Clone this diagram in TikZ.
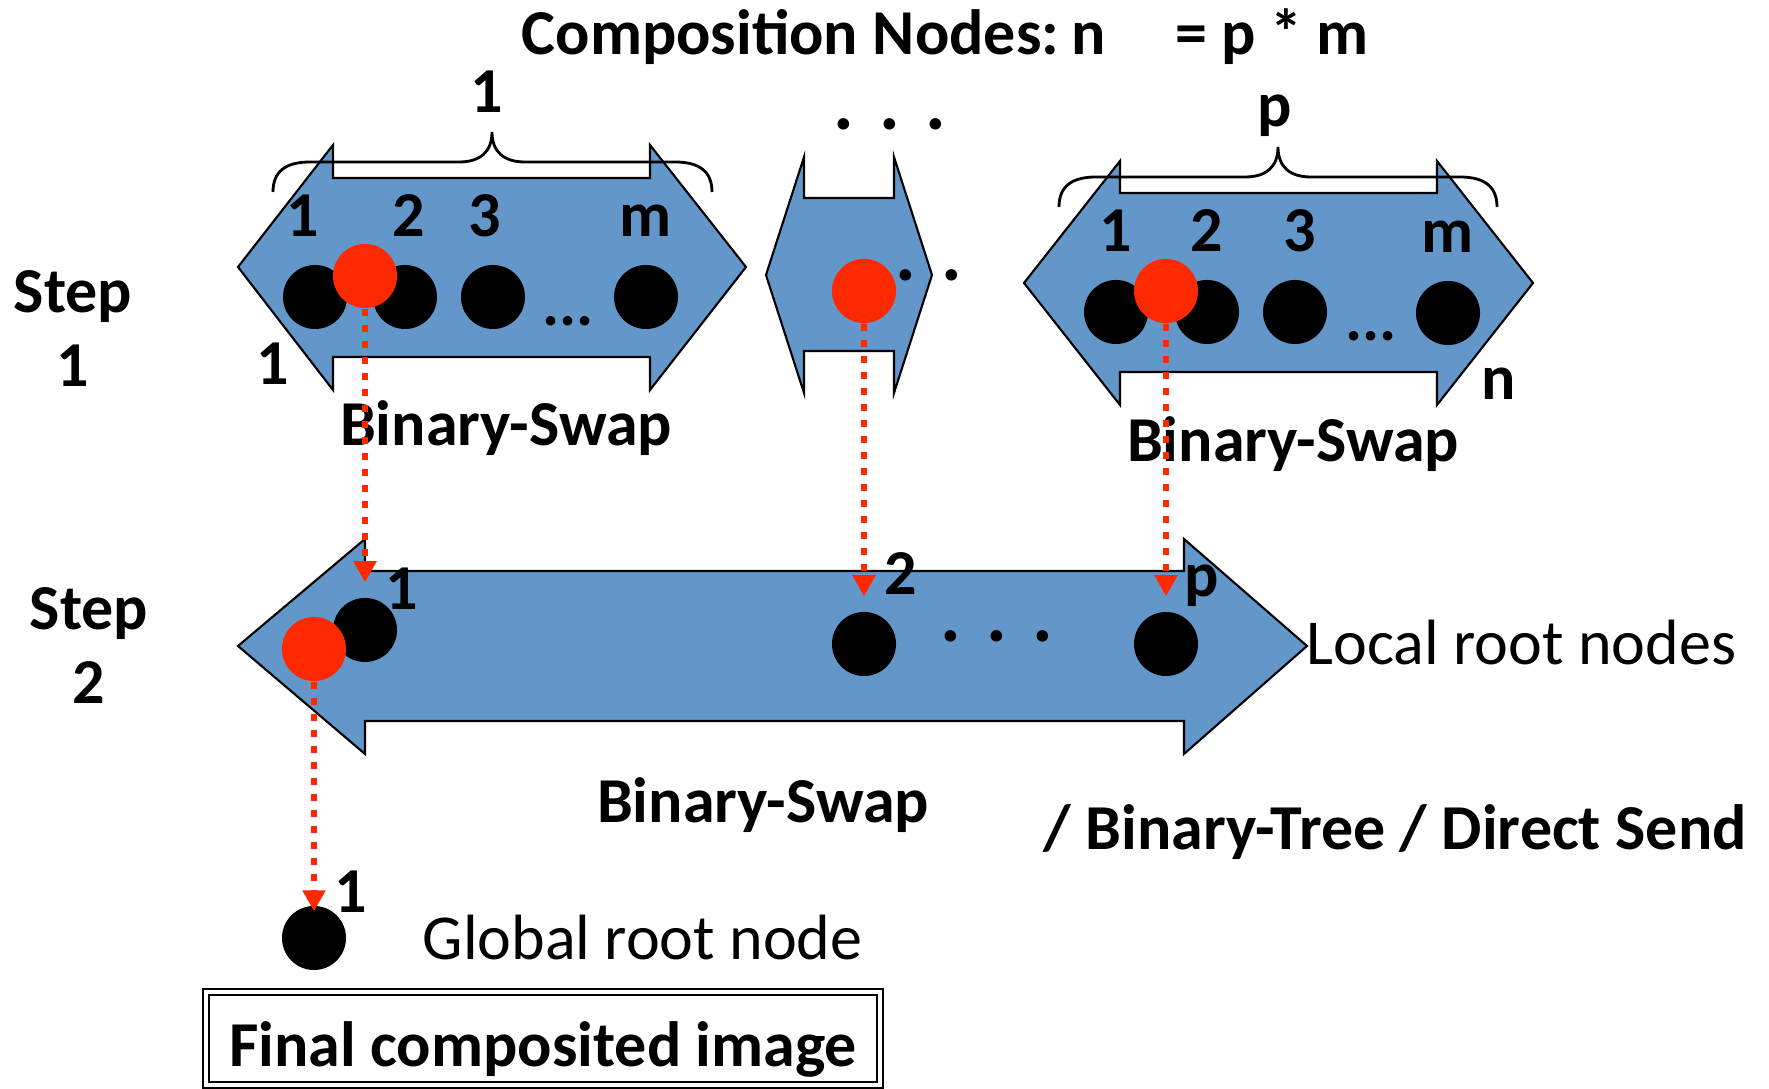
\documentclass[tikz,border=0pt]{standalone}
\usepackage{fontspec}
\setmainfont{Carlito}
\usepackage{tikz}
\usetikzlibrary{arrows.meta,positioning}
\definecolor{bsblue}{RGB}{99,150,201}
\definecolor{bsred}{RGB}{255,41,0}
\newcommand{\lblfont}{\fontsize{18.2}{21}\selectfont\bfseries}
\newcommand{\txtfont}{\fontsize{18.2}{21}\selectfont}
\newcommand{\spreaddots}{.\hspace{0.255cm}.\hspace{0.255cm}.}
\tikzstyle{bigarrow} = [draw=black, fill=bsblue, line width=0.6pt, line join=miter]
\tikzstyle{proc} = [circle, fill=black, minimum size=0.64cm, inner sep=0pt]
\tikzstyle{rootproc} = [proc, fill=bsred]
\tikzstyle{lbl} = [inner sep=0pt, font=\lblfont]
\tikzstyle{dotsl} = [inner sep=0pt, font=\fontsize{22}{26}\selectfont\bfseries]
\tikzstyle{curly} = [draw=black, line width=0.8pt]
\tikzstyle{collect} = [draw=bsred, line width=1.9pt, dash pattern=on 0.07cm off 0.09cm, -{Triangle[width=0.22cm,length=0.21cm]}]

\begin{document}
\begin{tikzpicture}[x=0.01cm, y=-0.01cm]
\useasboundingbox (0,0) rectangle (1769,1089);

\node[lbl, anchor=base west] (title) at (521,55) {Composition Nodes:\hspace{0.12cm}n\hspace{0.55cm} = p * m};

% step 1: p groups of m nodes
\draw[bigarrow] (238,267) -- (333,145) -- (333,178) -- (650,178) -- (650,145) -- (746,267) -- (650,390) -- (650,357) -- (333,357) -- (333,390) -- cycle;
\draw[bigarrow] (766,275) -- (804,157) -- (804,198) -- (894,198) -- (894,157) -- (932,275) -- (894,393) -- (894,351) -- (804,351) -- (804,393) -- cycle;
\draw[bigarrow] (1024,283) -- (1120,161) -- (1120,193) -- (1437,193) -- (1437,161) -- (1533,283) -- (1437,405) -- (1437,372) -- (1120,372) -- (1120,405) -- cycle;

\draw[curly] (273,192) .. controls (273,172) and (285,162) .. (310,162) -- (459,162) .. controls (480,162) and (492,152) .. (492,132) .. controls (492,152) and (504,162) .. (525,162) -- (675,162) .. controls (700,162) and (712,172) .. (712,192);
\draw[curly] (1059,207) .. controls (1059,187) and (1071,177) .. (1096,177) -- (1245,177) .. controls (1266,177) and (1278,167) .. (1278,147) .. controls (1278,167) and (1290,177) .. (1311,177) -- (1460,177) .. controls (1485,177) and (1497,187) .. (1497,207);
\node[lbl, anchor=base] (grp1) at (487,113) {1};
\node[lbl, anchor=base] (grpp) at (1275,127) {p};
\node[dotsl, anchor=base] (grpdots) at (890,130) {\spreaddots};

\node[lbl, align=center] (step1) at (73,328.5) {Step\\1};

\node[proc] (c1) at (315,297) {};
\node[proc] (c2) at (405,297) {};
\node[proc] (c3) at (493,297) {};
\node[proc] (cm) at (646,297) {};
\node[rootproc] (r1) at (365,276) {};
\node[lbl, above=0.27cm of c1, xshift=-0.12cm] (lc1) {1};
\node[lbl, above=0.27cm of c2, xshift=0.04cm] (lc2) {2};
\node[lbl, above=0.27cm of c3, xshift=-0.08cm] (lc3) {3};
\node[lbl, above=0.27cm of cm] (lcm) {m};
\node[lbl, anchor=base] (cdots) at (568,326) {...};
\node[lbl, anchor=base] (lfirst) at (273,385) {1};
\node[lbl, anchor=base] (bs1) at (506,446) {Binary-Swap};

\node[dotsl, anchor=base] (middots) at (906,281) {\spreaddots};
\node[rootproc] (r2) at (864,291) {};

\node[proc] (d1) at (1116,312) {};
\node[proc] (d2) at (1207,312) {};
\node[proc] (d3) at (1295,312) {};
\node[proc] (dm) at (1448,313) {};
\node[rootproc] (r3) at (1166,291) {};
\node[lbl, above=0.27cm of d1] (ld1) {1};
\node[lbl, above=0.27cm of d2] (ld2) {2};
\node[lbl, above=0.27cm of d3, xshift=0.05cm] (ld3) {3};
\node[lbl, above=0.27cm of dm] (ldm) {m};
\node[lbl, anchor=base] (ddots) at (1371,341) {...};
\node[lbl, anchor=base] (llast) at (1499,400) {n};
\node[lbl, anchor=base] (bsp) at (1293,462) {Binary-Swap};

% step 2: local roots
\draw[bigarrow] (238,646) -- (365,539) -- (365,571) -- (1184,571) -- (1184,539) -- (1307,646) -- (1184,754) -- (1184,721) -- (365,721) -- (365,754) -- cycle;
\node[lbl, align=center] (step2) at (89,645.5) {Step\\2};

\node[proc] (s1) at (365,630) {};
\node[proc] (s2) at (864,644) {};
\node[proc] (sp) at (1166,644) {};
\node[rootproc] (rs) at (314,649) {};
\node[lbl, anchor=base] (ls1) at (402,610) {1};
\node[lbl, anchor=base] (ls2) at (901,595) {2};
\node[lbl, anchor=base] (lsp) at (1202,597) {p};
\node[dotsl, anchor=base] (sdots) at (997,642) {\spreaddots};
\node[inner sep=0pt, font=\txtfont, anchor=base west] (local) at (1306,665) {Local root nodes};
\node[lbl, anchor=base] (bs2) at (763,823) {Binary-Swap};
\node[lbl, anchor=base west] (alts) at (1043,850) {/ Binary-Tree / Direct Send};

% global root
\node[proc] (g) at (314,938) {};
\node[lbl, anchor=base] (lg) at (351,913) {1};
\node[inner sep=0pt, font=\txtfont, anchor=base west] (global) at (422,960) {Global root node};
\node[draw, double, double distance=0.04cm, line width=0.57pt, inner sep=0pt, minimum width=6.74cm, minimum height=0.93cm, text height=0.6cm, text depth=0.05cm, font=\lblfont] (final) at (543,1038.5) {Final composited image};

\draw[collect, shorten >=0.15cm] (r1.south) -- (s1.north);
\draw[collect, shorten >=0.15cm] (r2.south) -- (s2.north);
\draw[collect, shorten >=0.15cm] (r3.south) -- (sp.north);
\draw[collect, shorten >=-0.06cm] (rs.south) -- (g.north);
\end{tikzpicture}
\end{document}
